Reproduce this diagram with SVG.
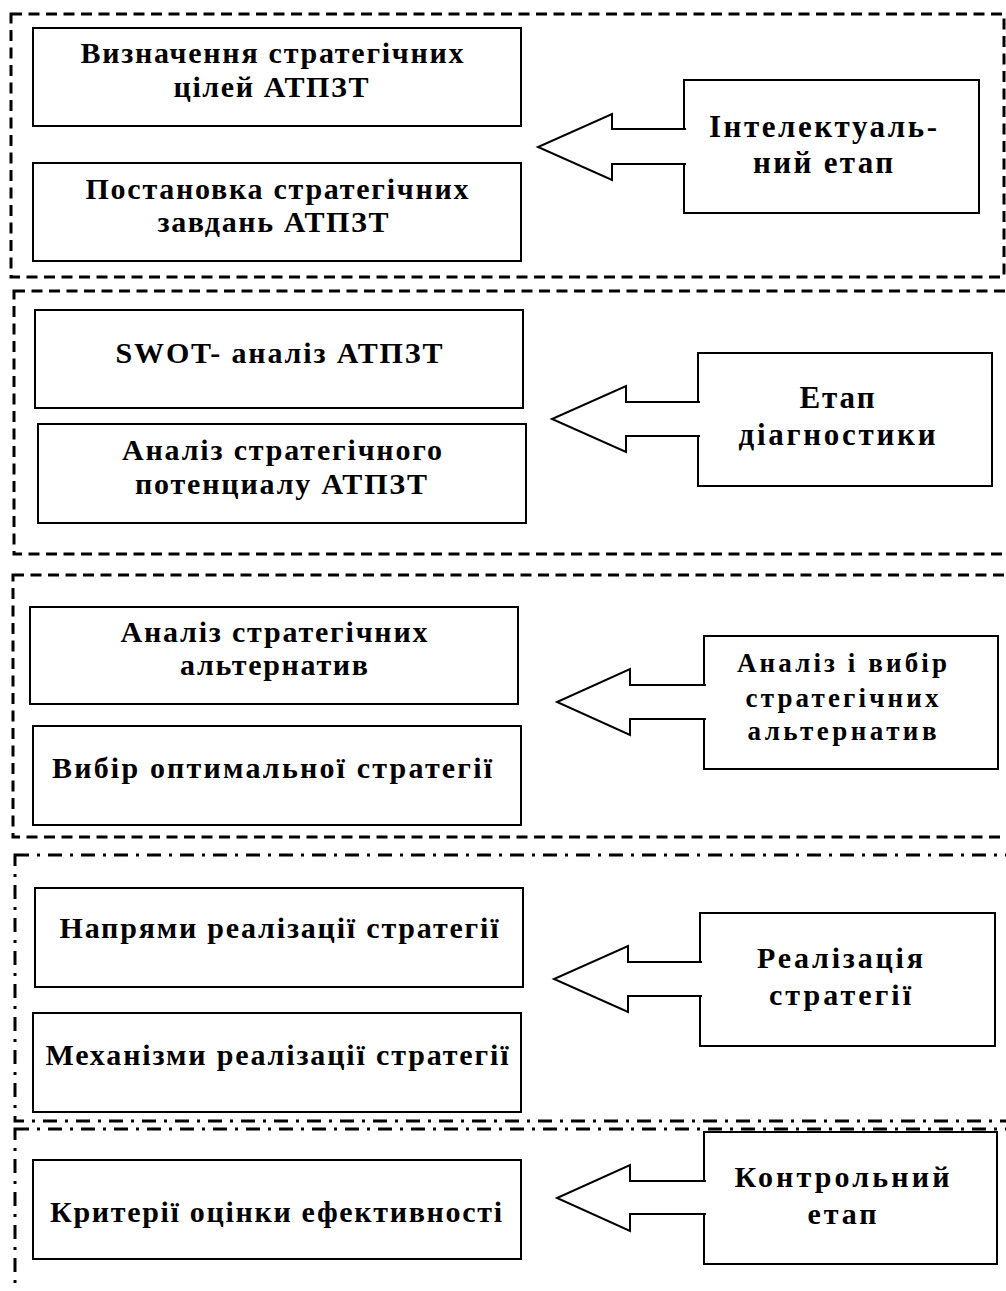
<svg xmlns="http://www.w3.org/2000/svg" width="1006" height="1291" viewBox="0 0 1006 1291">
<style>
  .frame { fill: none; stroke: #000; stroke-width: 3; }
  .dash { stroke-dasharray: 11 6.5; }
  .dashdot { stroke-dasharray: 14 8 3 8; }
  .box { fill: #fff; stroke: #000; stroke-width: 2; }
  .arrow { fill: #fff; stroke: #000; stroke-width: 2; stroke-linejoin: miter; }
  text { font-family: "Liberation Serif", "Times New Roman", serif; font-weight: bold; font-size: 30px; text-anchor: middle; fill: #000; }
  .big { font-size: 31px; }
  .small { font-size: 27px; }
</style>
<rect width="1006" height="1291" fill="#fff"/>

<g id="frames">
  <rect class="frame dash" x="11" y="14" width="993" height="263"/>
  <rect class="frame dash" x="14" y="291" width="1010" height="263"/>
  <rect class="frame dash" x="13" y="575" width="1010" height="262"/>
  <rect class="frame dashdot" x="15" y="855" width="1010" height="266"/>
  <rect class="frame dashdot" x="15" y="1129" width="1010" height="200"/>
</g>

<g id="node-goals">
  <rect class="box" x="33" y="28" width="488" height="98"/>
  <text x="272" y="63" textLength="383">Визначення стратегічних</text>
  <text x="271" y="97" textLength="195">цілей АТПЗТ</text>
</g>
<g id="node-tasks">
  <rect class="box" x="33" y="163" width="488" height="98"/>
  <text x="277" y="199" textLength="383">Постановка стратегічних</text>
  <text x="273" y="232" textLength="231">завдань АТПЗТ</text>
</g>
<g id="node-intellectual">
  <rect class="box" x="684" y="80" width="295" height="133"/>
  <text class="big" x="823" y="137" textLength="228">Інтелектуаль-</text>
  <text class="big" x="823" y="173" textLength="140">ний етап</text>
</g>

<g id="node-swot">
  <rect class="box" x="35" y="310" width="488" height="98"/>
  <text x="279" y="363" textLength="327">SWOT- аналіз АТПЗТ</text>
</g>
<g id="node-potential">
  <rect class="box" x="38" y="424" width="488" height="99"/>
  <text x="282" y="460" textLength="320">Аналіз стратегічного</text>
  <text x="281" y="494" textLength="292">потенциалу АТПЗТ</text>
</g>
<g id="node-diagnostics">
  <rect class="box" x="698" y="353" width="294" height="133"/>
  <text class="big" x="837" y="408" textLength="75">Етап</text>
  <text class="big" x="837" y="445" textLength="197">діагностики</text>
</g>

<g id="node-alternatives">
  <rect class="box" x="30" y="607" width="488" height="97"/>
  <text x="274" y="642" textLength="307">Аналіз стратегічних</text>
  <text x="274" y="675" textLength="188">альтернатив</text>
</g>
<g id="node-optimal">
  <rect class="box" x="33" y="726" width="488" height="99"/>
  <text x="272" y="778" textLength="440">Вибір оптимальної стратегії</text>
</g>
<g id="node-choice">
  <rect class="box" x="704" y="636" width="294" height="133"/>
  <text class="small" x="842" y="672" textLength="210">Аналіз і вибір</text>
  <text class="small" x="842" y="707" textLength="193">стратегічних</text>
  <text class="small" x="842" y="740" textLength="189">альтернатив</text>
</g>

<g id="node-directions">
  <rect class="box" x="35" y="888" width="488" height="99"/>
  <text x="279" y="938" textLength="439">Напрями реалізації стратегії</text>
</g>
<g id="node-mechanisms">
  <rect class="box" x="33" y="1013" width="488" height="99"/>
  <text x="277" y="1065" textLength="463">Механізми реалізації стратегії</text>
</g>
<g id="node-implementation">
  <rect class="box" x="700" y="913" width="295" height="133"/>
  <text x="840" y="968" textLength="166">Реалізація</text>
  <text x="840" y="1005" textLength="142">стратегії</text>
</g>

<g id="node-criteria">
  <rect class="box" x="33" y="1160" width="488" height="99"/>
  <text x="276" y="1222" textLength="452">Критерії оцінки ефективності</text>
</g>
<g id="node-control">
  <rect class="box" x="704" y="1132" width="293" height="132"/>
  <text x="842" y="1187" textLength="215">Контрольний</text>
  <text x="842" y="1224" textLength="69">етап</text>
</g>

<g id="connectors">
  <path class="arrow" d="M686,129 H612 V114 L538,147 L612,180 V164 H686"/>
  <path class="arrow" d="M700,402 H626 V386 L552,419 L626,452 V436 H700"/>
  <path class="arrow" d="M706,685 H630 V669 L557,702 L630,735 V719 H706"/>
  <path class="arrow" d="M702,962 H628 V946 L554,979 L628,1012 V996 H702"/>
  <path class="arrow" d="M706,1181 H630 V1165 L557,1198 L630,1231 V1214 H706"/>
</g>
</svg>
